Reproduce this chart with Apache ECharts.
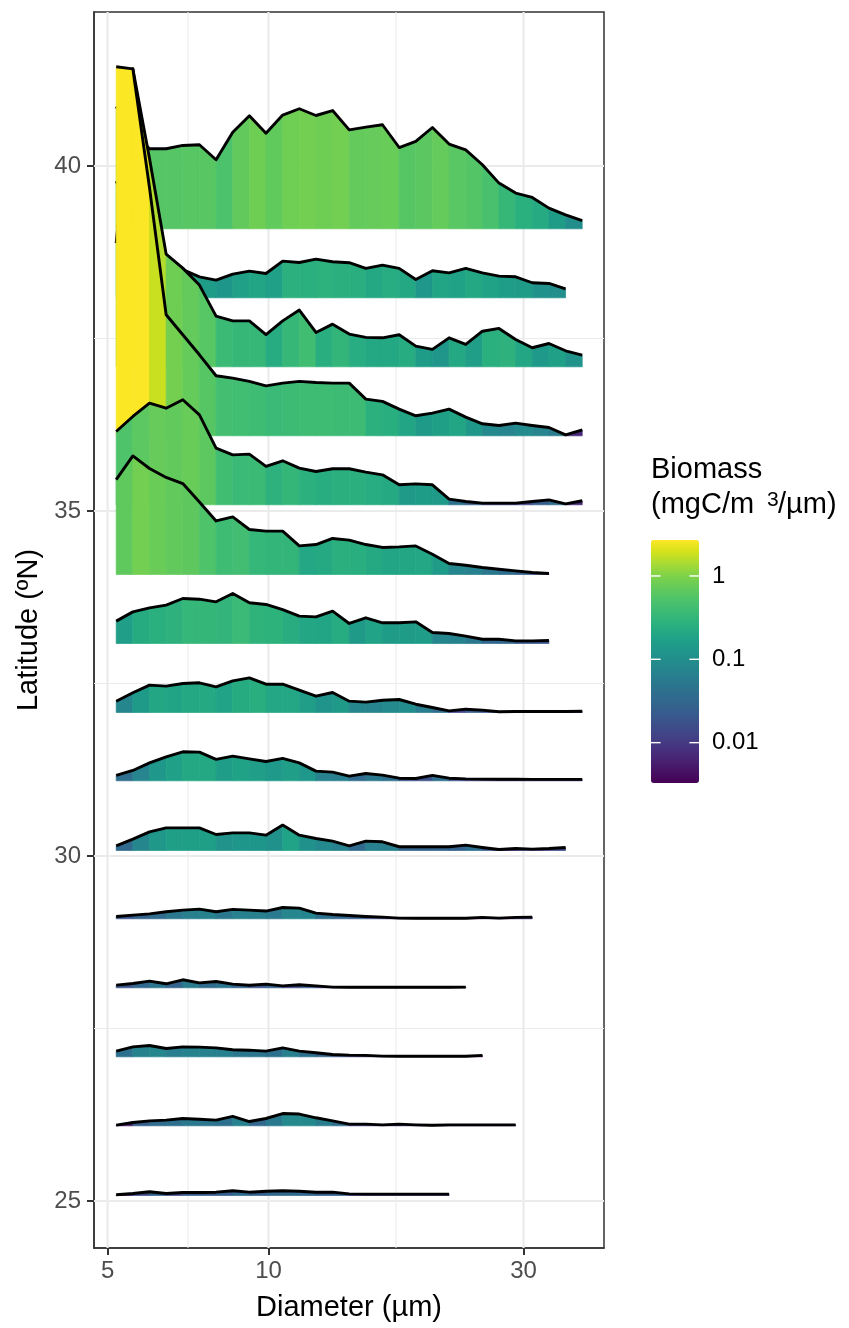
<!DOCTYPE html>
<html>
<head>
<meta charset="utf-8">
<script src="https://cdn.jsdelivr.net/npm/echarts@6/dist/echarts.min.js"></script>
<style>
html,body{margin:0;padding:0;background:#ffffff;}
#chart{width:849px;height:1328px;}
</style>
</head>
<body>
<div id="chart"></div>
<script>
// ---------------- DATA ----------------
// size-bin centres (µm)
const diameters = [5.189, 5.575, 5.990, 6.435, 6.913, 7.427, 7.979, 8.573, 9.210, 9.893,
  10.63, 11.42, 12.27, 13.18, 14.16, 15.21, 16.34, 17.56, 18.86, 20.26,
  21.77, 23.39, 25.13, 26.99, 29.00, 31.15, 33.47, 35.96, 38.63];

// station latitudes (ºN), top to bottom
const latitudes = [39.09, 38.09, 37.09, 36.09, 35.09, 34.08, 33.08, 32.08, 31.09, 30.08,
  29.09, 28.09, 27.09, 26.09, 25.08];

// biomass spectra (mgC/m3/µm), one array per station
const ridge01 = [0.886, 0.70, 0.580, 0.580, 0.604, 0.609, 0.500, 0.700, 0.819, 0.693, 0.824, 0.870, 0.821, 0.857, 0.717, 0.737, 0.754, 0.589, 0.633, 0.734, 0.614, 0.572, 0.464, 0.331, 0.259, 0.227, 0.150, 0.101, 0.060];
const ridge02 = [0.846, 0.60, 0.40, 0.24, 0.205, 0.152, 0.128, 0.172, 0.193, 0.176, 0.266, 0.256, 0.280, 0.261, 0.254, 0.213, 0.237, 0.213, 0.133, 0.196, 0.181, 0.213, 0.181, 0.157, 0.152, 0.109, 0.104, 0.065];
const ridge03 = [0.896, 2.16, 1.51, 0.817, 0.715, 0.592, 0.367, 0.333, 0.333, 0.234, 0.333, 0.411, 0.249, 0.309, 0.237, 0.213, 0.210, 0.232, 0.150, 0.126, 0.210, 0.162, 0.258, 0.278, 0.198, 0.138, 0.169, 0.116, 0.085];
const ridge04 = [2.674, 2.659, 1.797, 0.877, 0.732, 0.587, 0.435, 0.418, 0.394, 0.362, 0.382, 0.394, 0.386, 0.382, 0.382, 0.266, 0.249, 0.193, 0.145, 0.164, 0.193, 0.135, 0.087, 0.075, 0.092, 0.075, 0.060, 0.007, 0.043];
const ridge05 = [0.531, 0.640, 0.737, 0.700, 0.761, 0.652, 0.411, 0.362, 0.367, 0.278, 0.319, 0.266, 0.241, 0.261, 0.261, 0.237, 0.217, 0.145, 0.152, 0.145, 0.041, 0.024, 0.012, 0.012, 0.012, 0.024, 0.036, 0.007, 0.029];
const ridge06 = [0.688, 0.859, 0.768, 0.703, 0.659, 0.526, 0.388, 0.417, 0.326, 0.314, 0.314, 0.207, 0.217, 0.261, 0.249, 0.217, 0.196, 0.200, 0.207, 0.147, 0.080, 0.067, 0.051, 0.038, 0.026, 0.014, 0.007];
const ridge07 = [0.162, 0.229, 0.258, 0.278, 0.326, 0.321, 0.302, 0.362, 0.295, 0.283, 0.246, 0.198, 0.193, 0.234, 0.145, 0.186, 0.150, 0.150, 0.157, 0.080, 0.072, 0.053, 0.031, 0.031, 0.019, 0.019, 0.022];
const ridge08 = [0.082, 0.143, 0.198, 0.191, 0.210, 0.215, 0.186, 0.229, 0.251, 0.205, 0.205, 0.162, 0.118, 0.145, 0.082, 0.075, 0.089, 0.094, 0.060, 0.036, 0.012, 0.024, 0.017, 0.005, 0.007, 0.007, 0.007, 0.007, 0.009];
const ridge09 = [0.039, 0.075, 0.130, 0.174, 0.210, 0.208, 0.155, 0.179, 0.159, 0.140, 0.162, 0.130, 0.070, 0.063, 0.034, 0.053, 0.041, 0.019, 0.017, 0.039, 0.019, 0.014, 0.012, 0.011, 0.011, 0.010, 0.010, 0.010, 0.010];
const ridge10 = [0.034, 0.082, 0.135, 0.164, 0.164, 0.164, 0.116, 0.128, 0.128, 0.111, 0.184, 0.111, 0.087, 0.068, 0.034, 0.068, 0.063, 0.027, 0.027, 0.027, 0.027, 0.039, 0.022, 0.007, 0.014, 0.010, 0.014, 0.022];
const ridge11 = [0.017, 0.027, 0.036, 0.051, 0.063, 0.070, 0.051, 0.068, 0.063, 0.056, 0.082, 0.077, 0.041, 0.031, 0.024, 0.017, 0.012, 0.005, 0.004, 0.004, 0.004, 0.004, 0.010, 0.005, 0.010, 0.012];
const ridge12 = [0.019, 0.031, 0.048, 0.029, 0.058, 0.036, 0.046, 0.027, 0.019, 0.027, 0.014, 0.022, 0.014, 0.005, 0.004, 0.004, 0.004, 0.004, 0.004, 0.004, 0.004, 0.005];
const ridge13 = [0.041, 0.072, 0.082, 0.060, 0.072, 0.070, 0.065, 0.051, 0.048, 0.041, 0.065, 0.041, 0.029, 0.017, 0.012, 0.010, 0.005, 0.004, 0.004, 0.004, 0.004, 0.004, 0.010];
const ridge14 = [0.005, 0.024, 0.036, 0.041, 0.053, 0.048, 0.041, 0.068, 0.031, 0.053, 0.089, 0.085, 0.058, 0.036, 0.012, 0.012, 0.007, 0.012, 0.007, 0.004, 0.007, 0.007, 0.007, 0.007, 0.007];
const ridge15 = [0.005, 0.014, 0.027, 0.014, 0.022, 0.022, 0.024, 0.034, 0.024, 0.031, 0.034, 0.031, 0.024, 0.024, 0.012, 0.010, 0.010, 0.010, 0.010, 0.010, 0.010];

const ridges = [ridge01, ridge02, ridge03, ridge04, ridge05, ridge06, ridge07, ridge08,
  ridge09, ridge10, ridge11, ridge12, ridge13, ridge14, ridge15];

// tick labels
const xTickLabels = [5, 10, 30];
const xMinorBreaks = [7.071, 17.32];
const yTickLabels = [25, 30, 35, 40];
const yMinorBreaks = [27.5, 32.5, 37.5];
const colorbarTicks = [1, 0.1, 0.01];
const colorbarRange = [0.00328, 2.70];   // biomass limits of the fill scale

// ---------------- STYLE / LAYOUT ----------------
const FONT = '"Liberation Sans", Arial, Helvetica, sans-serif';
const RIDGE_SCALE = 2;          // latitude units per mgC/m3/µm
const X_RANGE = [4.716, 42.43]; // µm, panel limits
const Y_RANGE = [24.319, 42.232];
const GRID = {left: 94, top: 12, width: 510, height: 1236};
// viridis-like ramp (21 evenly spaced stops, low -> high)
const RAMP = ['#440154', '#471365', '#482475', '#463480', '#414487', '#3B528B', '#355F8D',
  '#306A8E', '#2B758E', '#27818E', '#238C8D', '#1F978A', '#20A386', '#2AAF7F', '#3ABA76',
  '#4CC26C', '#62CA5C', '#7DD24A', '#A6DA35', '#D3E21C', '#FDE725'];
const BAR = {left: 651, top: 540, width: 48, height: 243};

const lg = Math.log10;
const logMin = lg(colorbarRange[0]), logMax = lg(colorbarRange[1]);

// ---------------- SERIES ----------------
const series = [];

// panel grid lines (drawn through the axes' scales)
const gridData = [];
xTickLabels.forEach(v => gridData.push([0, lg(v), 1]));
xMinorBreaks.forEach(v => gridData.push([0, lg(v), 0]));
yTickLabels.forEach(v => gridData.push([1, v, 1]));
yMinorBreaks.forEach(v => gridData.push([1, v, 0]));
series.push({
  type: 'custom',
  silent: true,
  z: 1,
  data: gridData,
  encode: {x: 1, y: 1},
  renderItem: function (params, api) {
    const cs = params.coordSys;
    const vertical = api.value(0) === 0;
    const v = api.value(1);
    const major = api.value(2) === 1;
    let shape;
    if (vertical) {
      const p = api.coord([v, Y_RANGE[0]]);
      shape = {x1: p[0], y1: cs.y, x2: p[0], y2: cs.y + cs.height};
    } else {
      const p = api.coord([lg(X_RANGE[0]), v]);
      shape = {x1: cs.x, y1: p[1], x2: cs.x + cs.width, y2: p[1]};
    }
    return {type: 'line', shape: shape,
      style: {stroke: '#EBEBEB', lineWidth: major ? 2.2 : 1.1}};
  }
});

const ridgeSeriesIdx = [];
ridges.forEach(function (b, r) {
  const lat = latitudes[r];
  const strips = [];
  for (let k = 0; k < b.length - 1; k++) {
    strips.push([lg(diameters[k]), lg(diameters[k + 1]), b[k], b[k + 1], lg(b[k])]);
  }
  ridgeSeriesIdx.push(series.length);
  series.push({
    type: 'custom',
    silent: true,
    z: 10 + 2 * r,
    data: strips,
    dimensions: ['x0', 'x1', 'b0', 'b1', 'logb'],
    encode: {x: [0, 1], y: [2, 3]},
    renderItem: function (params, api) {
      const x0 = api.value(0), x1 = api.value(1);
      const h0 = api.value(2) * RIDGE_SCALE, h1 = api.value(3) * RIDGE_SCALE;
      const pts = [api.coord([x0, lat]), api.coord([x0, lat + h0]),
                   api.coord([x1, lat + h1]), api.coord([x1, lat])];
      const c = api.visual('color');
      return {type: 'polygon', shape: {points: pts},
        style: {fill: c, stroke: c, lineWidth: 0.7}};
    }
  });
  series.push({
    type: 'line',
    silent: true,
    z: 11 + 2 * r,
    symbol: 'none',
    data: b.map((v, k) => [lg(diameters[k]), lat + v * RIDGE_SCALE]),
    lineStyle: {color: '#000000', width: 2.9, join: 'round', cap: 'butt'},
    emphasis: {disabled: true}
  });
});

// ---------------- LEGEND GRAPHICS ----------------
const graphics = [];
colorbarTicks.forEach(function (v) {
  const y = BAR.top + (logMax - lg(v)) / (logMax - logMin) * BAR.height;
  graphics.push({type: 'line', z: 100, silent: true,
    shape: {x1: BAR.left, y1: y, x2: BAR.left + BAR.width / 5, y2: y},
    style: {stroke: '#ffffff', lineWidth: 1.4}});
  graphics.push({type: 'line', z: 100, silent: true,
    shape: {x1: BAR.left + BAR.width * 4 / 5, y1: y, x2: BAR.left + BAR.width, y2: y},
    style: {stroke: '#ffffff', lineWidth: 1.4}});
  graphics.push({type: 'text', z: 100, silent: true, x: BAR.left + BAR.width + 13, y: y,
    style: {text: String(v), font: '24px ' + FONT, fill: '#000000', verticalAlign: 'middle', align: 'left'}});
});
graphics.push({type: 'text', z: 100, silent: true, x: BAR.left, y: 455,
  style: {text: 'Biomass', font: '29px ' + FONT, fill: '#000000', verticalAlign: 'top'}});
graphics.push({type: 'text', z: 100, silent: true, x: BAR.left, y: 490,
  style: {text: '(mgC/m', font: '29px ' + FONT, fill: '#000000', verticalAlign: 'top'}});
graphics.push({type: 'text', z: 100, silent: true, x: 767, y: 490,
  style: {text: '3', font: '21px ' + FONT, fill: '#000000', verticalAlign: 'top'}});
graphics.push({type: 'text', z: 100, silent: true, x: 778, y: 490,
  style: {text: '/µm)', font: '29px ' + FONT, fill: '#000000', verticalAlign: 'top'}});

// ---------------- CHART ----------------
const chart = echarts.init(document.getElementById('chart'), null, {renderer: 'canvas'});
chart.setOption({
  animation: false,
  backgroundColor: '#ffffff',
  textStyle: {fontFamily: FONT},
  grid: Object.assign({show: true, borderColor: '#333333', borderWidth: 1.5, backgroundColor: '#ffffff', containLabel: false}, GRID),
  xAxis: {
    type: 'value',
    min: lg(X_RANGE[0]), max: lg(X_RANGE[1]),
    splitLine: {show: false},
    axisLine: {show: true, lineStyle: {color: '#333333', width: 1.5}},
    axisTick: {show: true, customValues: xTickLabels.map(lg), length: 7, lineStyle: {color: '#333333', width: 2}},
    axisLabel: {customValues: xTickLabels.map(lg), color: '#4D4D4D', fontSize: 24, fontFamily: FONT, margin: 11,
      formatter: v => String(Math.round(Math.pow(10, v)))},
    name: 'Diameter (µm)', nameLocation: 'middle', nameGap: 45,
    nameTextStyle: {color: '#000000', fontSize: 29, fontFamily: FONT}
  },
  yAxis: {
    type: 'value',
    min: Y_RANGE[0], max: Y_RANGE[1],
    splitLine: {show: false},
    axisLine: {show: true, lineStyle: {color: '#333333', width: 1.5}},
    axisTick: {show: true, customValues: yTickLabels, length: 7, lineStyle: {color: '#333333', width: 2}},
    axisLabel: {customValues: yTickLabels, color: '#4D4D4D', fontSize: 24, fontFamily: FONT, margin: 13,
      formatter: v => String(v)},
    name: 'Latitude (ºN)', nameLocation: 'middle', nameGap: 47,
    nameTextStyle: {color: '#000000', fontSize: 29, fontFamily: FONT}
  },
  visualMap: {
    type: 'continuous',
    min: logMin, max: logMax,
    dimension: 4,
    seriesIndex: ridgeSeriesIdx,
    inRange: {color: RAMP},
    orient: 'vertical',
    left: BAR.left, top: BAR.top,
    itemWidth: BAR.width, itemHeight: BAR.height,
    padding: 0,
    calculable: false,
    hoverLink: false,
    text: null,
    show: true
  },
  series: series,
  graphic: graphics
});
</script>
</body>
</html>
